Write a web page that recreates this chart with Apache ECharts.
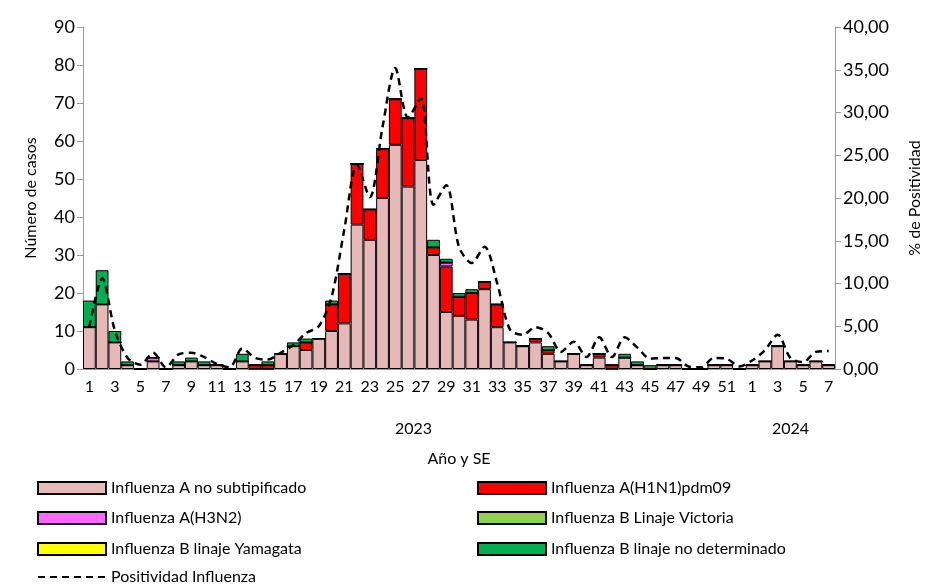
<!DOCTYPE html>
<html>
<head>
<meta charset="utf-8">
<script src="https://cdn.jsdelivr.net/npm/echarts@6/dist/echarts.min.js"></script>
<style>html,body{margin:0;padding:0;background:#fff}#chart{width:937px;height:587px}</style>
</head>
<body>
<div id="chart"></div>
<script>
// Semanas epidemiológicas: 2023 (1-52) y 2024 (1-7)
var weeks = [];
for (var w = 1; w <= 52; w++) weeks.push(String(w));
for (var w2 = 1; w2 <= 7; w2++) weeks.push(String(w2));

var aNoSub = [11,17,7,1,0,2,0,1,2,1,1,0,2,0,0,4,6,5,8,10,12,38,34,45,59,48,55,30,15,14,13,21,11,7,6,7,4,2,4,1,3,0,3,1,0,1,1,0,0,1,1,0, 1,2,6,2,1,2,1];
var aH1N1 = [0,0,0,0,0,0,0,0,0,0,0,0,0,1,1,0,0,2,0,7,13,16,8,13,12,18,24,2,12,5,7,2,6,0,0,1,1,0,0,0,1,1,0,0,0,0,0,0,0,0,0,0, 0,0,0,0,0,0,0];
var aH3N2 = [0,0,0,0,0,1,0,0,0,0,0,0,0,0,0,0,0,0,0,0,0,0,0,0,0,0,0,0,1,0,0,0,0,0,0,0,0,0,0,0,0,0,0,0,0,0,0,0,0,0,0,0, 0,0,0,0,0,0,0];
var bVictoria = new Array(59).fill(0);
var bYamagata = new Array(59).fill(0);
var bNoDet = [7,9,3,1,0,0,0,1,1,1,0,0,2,0,1,0,1,1,0,1,0,0,0,0,0,0,0,2,1,1,1,0,0,0,0,0,1,0,0,0,0,0,1,1,1,0,0,0,0,0,0,0, 0,0,0,0,0,0,0];
var positividad = [4.9,10.6,4.5,1.3,0.5,1.9,0.2,1.7,1.9,1.4,0.6,0.2,2.4,1.3,1.1,1.9,2.8,4.2,5.0,8.4,16.3,23.9,20.1,28.3,35.2,29.4,31.7,19.2,21.5,14.3,12.4,14.3,10.0,4.6,4.0,4.9,4.2,2.0,3.2,1.4,3.7,1.4,3.7,2.5,1.2,1.3,1.3,0.3,0.2,1.3,1.2,0.3, 1.0,2.2,4.0,1.3,0.8,2.0,2.1];

var font = 'Lato';
var chart = echarts.init(document.getElementById('chart'));

function bar(name, data, color) {
  return {
    name: name, type: 'bar', stack: 'casos', data: data,
    barCategoryGap: '0%',
    itemStyle: { color: color, borderColor: '#000', borderWidth: 1 }
  };
}

// one legend per entry, laid out in two columns
function leg(name, left, top, isLine) {
  return {
    left: left, top: top, itemWidth: 68, itemHeight: 12,
    icon: isLine ? undefined : 'rect',
    textStyle: { fontFamily: font, fontSize: 16, color: '#000' },
    data: [isLine ? { name: name, itemStyle: { opacity: 0 } } : name]
  };
}

chart.setOption({
  animation: false,
  textStyle: { fontFamily: font },
  grid: { left: 83, right: 102, top: 27, bottom: 218 },
  legend: [
    leg('Influenza A no subtipificado', 32, 475),
    leg('Influenza A(H1N1)pdm09', 472, 475),
    leg('Influenza A(H3N2)', 32, 505),
    leg('Influenza B Linaje Victoria', 472, 505),
    leg('Influenza B linaje Yamagata', 32, 536),
    leg('Influenza B linaje no determinado', 472, 536),
    leg('Positividad Influenza', 32, 564, true)
  ],
  xAxis: {
    type: 'category', data: weeks,
    axisLine: { lineStyle: { color: '#999' } },
    axisTick: { show: false },
    axisLabel: { interval: 1, color: '#000', fontSize: 16, margin: 10 },
    name: 'Año y SE', nameLocation: 'middle', nameGap: 82,
    nameTextStyle: { color: '#000', fontSize: 16 }
  },
  yAxis: [
    { type: 'value', min: 0, max: 90, interval: 10,
      name: 'Número de casos', nameLocation: 'middle', nameGap: 44,
      nameTextStyle: { color: '#000', fontSize: 16 },
      axisLine: { show: true, lineStyle: { color: '#999' } },
      axisTick: { show: true, length: 6, lineStyle: { color: '#999' } },
      axisLabel: { color: '#000', fontSize: 18 },
      splitLine: { show: false } },
    { type: 'value', min: 0, max: 40, interval: 5,
      name: '% de Positividad', nameLocation: 'middle', nameGap: 72,
      nameTextStyle: { color: '#000', fontSize: 16 },
      axisLine: { show: true, lineStyle: { color: '#999' } },
      axisTick: { show: true, length: 6, lineStyle: { color: '#999' } },
      axisLabel: { color: '#000', fontSize: 18, formatter: function (v) { return v.toFixed(2).replace('.', ','); } },
      splitLine: { show: false } }
  ],
  graphic: [
    { type: 'text', left: 395, top: 421, style: { text: '2023', font: '16px ' + font, fill: '#000' } },
    { type: 'text', left: 772, top: 421, style: { text: '2024', font: '16px ' + font, fill: '#000' } }
  ],
  series: [
    bar('Influenza A no subtipificado', aNoSub, '#E6B8B7'),
    bar('Influenza A(H1N1)pdm09', aH1N1, '#FF0000'),
    bar('Influenza A(H3N2)', aH3N2, '#FF66FF'),
    bar('Influenza B Linaje Victoria', bVictoria, '#92D050'),
    bar('Influenza B linaje Yamagata', bYamagata, '#FFFF00'),
    bar('Influenza B linaje no determinado', bNoDet, '#00B050'),
    { name: 'Positividad Influenza', type: 'line', yAxisIndex: 1, data: positividad,
      smooth: 0.3, symbol: 'none',
      lineStyle: { color: '#000', width: 2.5, type: [7, 5] },
      itemStyle: { color: '#000' } }
  ]
});
</script>
</body>
</html>
